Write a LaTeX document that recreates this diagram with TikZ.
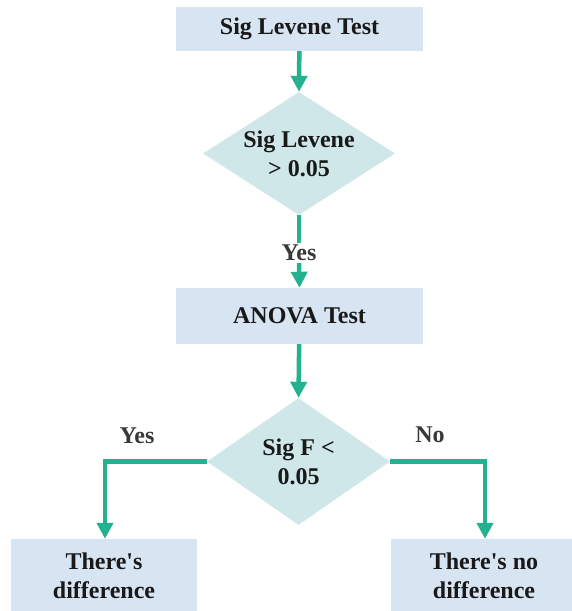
\documentclass[tikz,border=0pt]{standalone}
\usepackage{fontspec}
\setmainfont{Liberation Serif}
\usetikzlibrary{shapes.geometric,arrows.meta}

\definecolor{boxblue}{HTML}{D7E4F1}
\definecolor{diafill}{HTML}{CFE7E9}
\definecolor{flowgreen}{HTML}{24B18F}
\definecolor{answergray}{HTML}{383838}

\begin{document}
\begin{tikzpicture}[
        x=1pt, y=-1pt,
        >={Triangle[width=16pt,length=16pt]},
        font=\fontsize{24}{29}\selectfont\bfseries,
        box/.style={fill=boxblue, draw=none, inner sep=0pt, align=center, text=black!90},
        decision/.style={diamond, fill=diafill, draw=none, inner sep=0pt},
        flow/.style={->, draw=flowgreen, line width=4.5pt},
        answer/.style={text=answergray, inner sep=2pt}
    ]
    \useasboundingbox (0,0) rectangle (572,611);

    % --- 1. Levene test ---
    \node[box, minimum width=247pt, minimum height=44pt] (levene) at (299.5,29) {Sig Levene Test};
    \node[decision, minimum width=192pt, minimum height=123pt] (sigLevene) at (299,153.5) {};
    \node[align=center, text=black!90] (sigLeveneText) at (sigLevene.center) {Sig Levene\\> 0.05};
    \node[answer] (yesTop) at (299,253) {Yes};

    \draw[flow] (levene) -- (sigLevene.north);
    \draw[flowgreen, line width=4.5pt] (sigLevene.south) -- (yesTop.north);

    % --- 2. ANOVA ---
    \node[box, minimum width=247pt, minimum height=56pt] (anova) at (299.5,316) {ANOVA Test};
    \node[decision, minimum width=183pt, minimum height=127pt] (sigF) at (298.5,461.5) {};
    \node[align=center, text=black!90] (sigFText) at (sigF.center) {Sig F <\\0.05};

    \draw[flow] (yesTop.south) -- (anova.north);
    \draw[flow] (anova) -- (sigF.north);

    % --- 3. Outcomes ---
    \node[box, minimum width=186pt, minimum height=73pt] (diff) at (104,575.5) {There\textquotesingle s\\difference};
    \node[box, minimum width=186pt, minimum height=73pt] (noDiff) at (484,575.5) {There\textquotesingle s no\\difference};
    \node[answer] (yesLeft) at (137,436) {Yes};
    \node[answer] (noRight) at (430,435) {No};

    \draw[flow] (sigF.west) -| (diff.north -| 105,0);
    \draw[flow] (sigF.east) -| (noDiff.north -| 485,0);

\end{tikzpicture}
\end{document}
